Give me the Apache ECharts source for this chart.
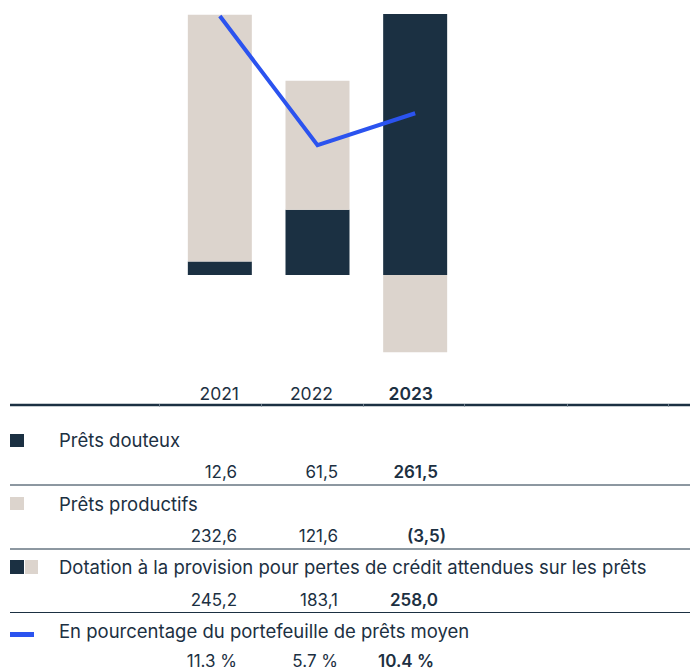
<!DOCTYPE html>
<html>
<head>
<meta charset="utf-8">
<script src="https://cdn.jsdelivr.net/npm/echarts@6/dist/echarts.min.js"></script>
<style>
html,body{margin:0;padding:0;background:#fff;}
#main{width:690px;height:670px;}
</style>
</head>
<body>
<div id="main"></div>
<script>
// ---- data ----
const years = ['2021', '2022', '2023'];
const pretsDouteux = [12.6, 61.5, 261.5];
const pretsProductifs = [232.6, 121.6, -73];      // as drawn in the picture
const pourcentage = [24.7, 5.7, 10.4];            // line positions
const rowNames = [
  'Prêts douteux',
  'Prêts productifs',
  'Dotation à la provision pour pertes de crédit attendues sur les prêts',
  'En pourcentage du portefeuille de prêts moyen'
];
const douteuxLabels = ['12,6', '61,5', '261,5'];
const productifsLabels = ['232,6', '121,6', '(3,5)'];
const dotationLabels = ['245,2', '183,1', '258,0'];
const pourcentageLabels = ['11.3 %', '5.7 %', '10.4 %'];

// ---- styles ----
const NAVY = '#1b3042';
const BEIGE = '#dcd4cd';
const BLUE = '#2b53ef';
const TXT = '#1c3042';
const FONT = 'Inter, "Noto Sans", sans-serif';

const chart = echarts.init(document.getElementById('main'), null, {renderer: 'svg'});

const colRight = [237, 338, 438];
const yearRight = [239, 333, 433];
const labelRowY = [440, 503.5, 567, 631];
const valueRowY = [472, 536, 600, 660.5];
const valueLabels = [douteuxLabels, productifsLabels, dotationLabels, pourcentageLabels];

const g = [];
function txt(s, x, y, align, bold, size) {
  g.push({type: 'text', x: x, y: y, silent: true,
    style: {text: s, fill: TXT, font: (bold ? '600 ' : '400 ') + size + 'px ' + FONT,
      lineHeight: 14, textAlign: align, textVerticalAlign: 'middle'}});
}
function hline(y, w) {
  g.push({type: 'line', silent: true, shape: {x1: 10, y1: y, x2: 690, y2: y},
    style: {stroke: NAVY, lineWidth: w}});
}
function rect(x, y, w, h, c) {
  g.push({type: 'rect', silent: true, shape: {x: x, y: y, width: w, height: h}, style: {fill: c}});
}

years.forEach((yv, i) => txt(yv, yearRight[i], 393, 'right', i === 2, 17.5));
hline(405, 2.5);
[159, 261, 363, 464, 567, 668].forEach(x => rect(x, 404, 1, 2.5, '#6a7a88'));
hline(485, 1);
hline(549, 1);
hline(612.5, 1);

rowNames.forEach((n, r) => txt(n, 59, labelRowY[r], 'left', false, 18.5));
valueLabels.forEach((arr, r) => {
  arr.forEach((s, i) => {
    let x = colRight[i];
    if (s.startsWith('(')) x += 8;
    if (r === 3 && i === 2) x -= 4;
    txt(s, x, valueRowY[r], 'right', i === 2, 17);
  });
});

rect(10, 434, 14, 13, NAVY);
rect(10, 497, 14, 13, BEIGE);
rect(10, 560, 14, 14, NAVY);
rect(25, 560, 13, 14, BEIGE);
rect(10, 632, 24, 5, BLUE);

chart.setOption({
  animation: false,
  grid: {left: 171, width: 293, top: 14, height: 367},
  xAxis: {type: 'category', data: years, show: false},
  yAxis: [
    {type: 'value', min: -100, max: 246, show: false},
    {type: 'value', min: -29, max: 25, show: false}
  ],
  series: [
    {name: 'Prêts douteux', type: 'bar', stack: 'total', data: pretsDouteux,
      barWidth: 64, itemStyle: {color: NAVY}, clip: true},
    {name: 'Prêts productifs', type: 'bar', stack: 'total', data: pretsProductifs,
      barWidth: 64, itemStyle: {color: BEIGE}, clip: true},
    {name: 'En pourcentage du portefeuille de prêts moyen', type: 'line', yAxisIndex: 1,
      data: pourcentage, showSymbol: false, clip: true,
      lineStyle: {color: BLUE, width: 4, join: 'miter'}}
  ],
  graphic: g
});
</script>
</body>
</html>
